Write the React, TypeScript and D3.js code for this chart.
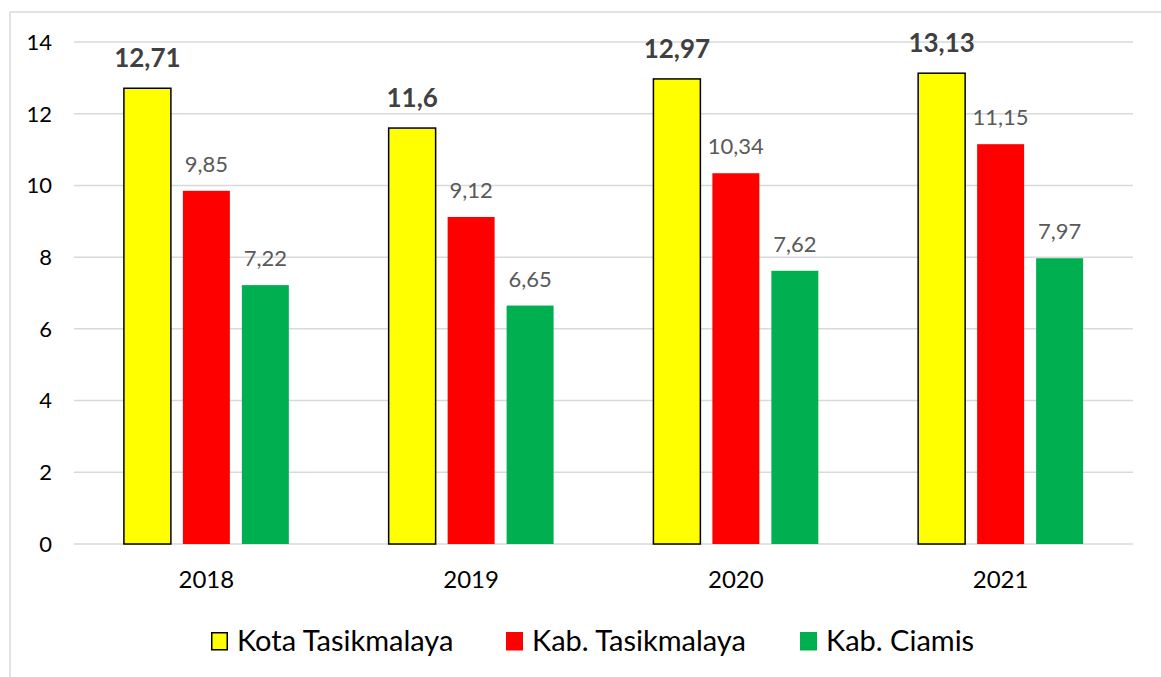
import React from "react";
import * as d3 from "d3";

const years = ["2018", "2019", "2020", "2021"];
const seriesNames = ["Kota Tasikmalaya", "Kab. Tasikmalaya", "Kab. Ciamis"];
const kotaTasikmalaya = [12.71, 11.6, 12.97, 13.13];
const kabTasikmalaya = [9.85, 9.12, 10.34, 11.15];
const kabCiamis = [7.22, 6.65, 7.62, 7.97];
const yTicks = [0, 2, 4, 6, 8, 10, 12, 14];

const seriesValues = [kotaTasikmalaya, kabTasikmalaya, kabCiamis];
const colors = ["#FFFF00", "#FF0000", "#00B050"];

const W = 1161;
const H = 677;
const FONT = "Lato, 'Noto Sans', sans-serif";

export default function App() {
  const x = d3
    .scaleBand<string>()
    .domain(years)
    .range([74, 1133])
    .paddingInner(0.377)
    .paddingOuter(0.1885);
  const xs = d3
    .scaleBand<string>()
    .domain(seriesNames)
    .range([0, x.bandwidth()])
    .paddingInner(0.2034)
    .paddingOuter(0);
  const y = d3.scaleLinear().domain([0, 14]).range([544, 42]);

  const fmt = (v: number) => String(v).replace(".", ",");

  const legendX = [211, 506, 800];

  return (
    <svg
      width={W}
      height={H}
      style={{ position: "absolute", left: 0, top: 0, background: "#fff" }}
      fontFamily={FONT}
    >
      <rect x={0} y={0} width={W} height={H} fill="#fff" />
      <rect x={10} y={12} width={W + 10} height={H + 10} fill="none" stroke="#d9d9d9" strokeWidth={1.5} />
      {yTicks.map((t) => (
        <g key={t}>
          <line x1={74} x2={1133} y1={y(t)} y2={y(t)} stroke="#d9d9d9" strokeWidth={1.5} />
          <text x={52} y={y(t)} dy="0.36em" textAnchor="end" fontSize={22} fill="#000">
            {t}
          </text>
        </g>
      ))}
      {years.map((yr, i) => (
        <g key={yr} transform={`translate(${x(yr)},0)`}>
          {seriesNames.map((s, j) => {
            const v = seriesValues[j][i];
            const bx = xs(s)!;
            const bw = xs.bandwidth();
            const top = y(v);
            return (
              <g key={s}>
                <rect
                  x={bx}
                  y={top}
                  width={bw}
                  height={y(0) - top}
                  fill={colors[j]}
                  stroke={j === 0 ? "#000" : "none"}
                  strokeWidth={j === 0 ? 1.5 : 0}
                />
                <text
                  x={bx + bw / 2}
                  y={top - (j === 0 ? 21 : 19)}
                  textAnchor="middle"
                  fontSize={j === 0 ? 26 : 22}
                  fontWeight={j === 0 ? 700 : 400}
                  fill={j === 0 ? "#404040" : "#595959"}
                >
                  {fmt(v)}
                </text>
              </g>
            );
          })}
          <text x={x.bandwidth() / 2} y={588} textAnchor="middle" fontSize={24} fill="#000">
            {yr}
          </text>
        </g>
      ))}
      {seriesNames.map((s, j) => (
        <g key={s} transform={`translate(${legendX[j]},0)`}>
          <rect
            x={j === 0 ? 0.75 : 0}
            y={j === 0 ? 632.75 : 632}
            width={j === 0 ? 15.5 : 17}
            height={j === 0 ? 17 : 18.5}
            fill={colors[j]}
            stroke={j === 0 ? "#000" : "none"}
            strokeWidth={1.5}
          />
          <text x={26} y={651} fontSize={29} fill="#000">
            {s}
          </text>
        </g>
      ))}
    </svg>
  );
}
